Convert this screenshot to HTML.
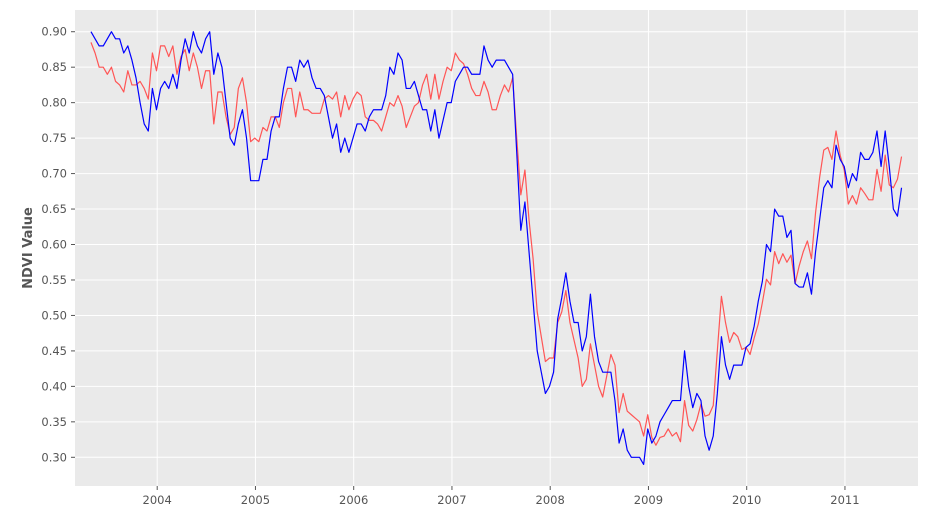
<!DOCTYPE html>
<html><head><meta charset="utf-8"><style>
html,body{margin:0;padding:0;background:#fff;}
svg{display:block;font-family:"DejaVu Sans","Liberation Sans",sans-serif;}
</style></head><body>
<svg id="chart" width="931" height="513" viewBox="0 0 931 513"></svg>
<script>
const startYear = 2003.326;
const stepYear = 1/24;
const blueValues = [0.90,0.89,0.88,0.88,0.89,0.90,0.89,0.89,0.87,0.88,0.86,0.835,0.80,0.77,0.76,0.82,0.79,0.82,0.83,0.82,0.84,0.82,0.86,0.89,0.87,0.90,0.88,0.87,0.89,0.90,0.84,0.87,0.85,0.80,0.75,0.74,0.77,0.79,0.75,0.69,0.69,0.69,
0.72,0.72,0.76,0.78,0.78,0.82,0.85,0.85,0.83,0.86,0.85,0.86,0.835,0.82,0.82,0.81,0.78,0.75,0.77,0.73,0.75,0.73,0.75,0.77,0.77,0.76,0.78,0.79,0.79,0.79,0.81,0.85,0.84,0.87,0.86,0.82,0.82,0.83,0.81,
0.79,0.79,0.76,0.79,0.75,0.775,0.80,0.80,0.83,0.84,0.85,0.85,0.84,0.84,0.84,0.88,0.86,0.85,0.86,0.86,0.86,0.85,0.84,0.73,0.62,0.66,0.59,0.52,0.45,0.42,0.39,0.40,0.42,0.495,0.525,0.56,0.52,0.49,0.49,0.45,0.47,0.53,0.47,0.435,
0.42,0.42,0.42,0.38,0.32,0.34,0.31,0.30,0.30,0.30,0.29,0.34,0.32,0.33,0.35,0.36,0.37,0.38,0.38,0.38,0.45,0.40,0.37,0.39,0.38,0.33,0.31,0.33,0.39,0.47,0.43,0.41,0.43,0.43,
0.43,0.455,0.46,0.485,0.52,0.548,0.60,0.59,0.65,0.64,0.64,0.61,0.62,0.545,0.54,0.54,0.56,0.53,0.59,0.635,0.68,0.69,0.68,0.74,0.72,0.71,0.68,0.70,0.69,0.73,0.72,0.72,0.73,0.76,0.71,0.76,0.71,0.65,0.64,0.68];
const redValues = [0.885,0.87,0.85,0.85,0.84,0.85,0.83,0.825,0.815,0.845,0.825,0.825,0.83,0.82,0.805,0.87,0.845,0.88,0.88,0.865,0.88,0.84,0.865,0.875,0.845,0.87,0.85,0.82,0.845,0.845,0.77,0.815,0.815,0.78,0.755,0.765,0.82,0.835,0.80,0.745,0.75,0.745,
0.765,0.76,0.78,0.78,0.765,0.80,0.82,0.82,0.78,0.815,0.79,0.79,0.785,0.785,0.785,0.805,0.81,0.805,0.815,0.78,0.81,0.79,0.805,0.815,0.81,0.78,0.775,0.775,0.77,0.76,0.78,0.80,0.795,0.81,0.795,0.765,0.78,0.795,0.80,
0.825,0.84,0.805,0.84,0.805,0.83,0.85,0.845,0.87,0.86,0.855,0.84,0.82,0.81,0.81,0.83,0.815,0.79,0.79,0.81,0.825,0.815,0.835,0.75,0.67,0.705,0.635,0.58,0.505,0.47,0.435,0.44,0.44,0.49,0.505,0.535,0.49,0.465,0.44,0.40,0.41,0.46,0.43,0.40,
0.385,0.415,0.445,0.43,0.363,0.39,0.365,0.36,0.355,0.35,0.33,0.36,0.328,0.317,0.328,0.33,0.34,0.33,0.335,0.322,0.38,0.345,0.337,0.353,0.375,0.358,0.36,0.373,0.45,0.527,0.49,0.462,0.476,0.47,
0.452,0.455,0.445,0.468,0.488,0.518,0.551,0.543,0.59,0.573,0.587,0.575,0.585,0.545,0.57,0.59,0.605,0.58,0.645,0.695,0.733,0.737,0.72,0.76,0.726,0.705,0.657,0.669,0.657,0.68,0.672,0.663,0.663,0.706,0.675,0.726,0.684,0.68,0.692,0.724];
const xTickLabels = [2004,2005,2006,2007,2008,2009,2010,2011];
const yTickLabels = [0.30,0.35,0.40,0.45,0.50,0.55,0.60,0.65,0.70,0.75,0.80,0.85,0.90];

const NS = "http://www.w3.org/2000/svg";
const svg = document.getElementById('chart');
const P = {l:75, r:918, t:10, b:486};
function xs(yr){ return 157.2 + (yr - 2004) * 98.25; }
function ys(v){ return 457.3 - (v - 0.30) * 709.3; }
function mk(tag, attrs, parent){
  const e = document.createElementNS(NS, tag);
  for (const k in attrs) e.setAttribute(k, attrs[k]);
  (parent || svg).appendChild(e);
  return e;
}
const bg = mk('rect',{x:P.l,y:P.t,width:P.r-P.l,height:P.b-P.t,fill:'#eaeaea'});



yTickLabels.forEach(v=>{
  const y = ys(v);
  const g = mk('line',{x1:P.l,x2:P.r,y1:y,y2:y,stroke:'#fff','stroke-width':1});
  
  
  const t = mk('line',{x1:P.l-4,x2:P.l,y1:y,y2:y,stroke:'#555','stroke-width':1});
  
  
  const lab = mk('text',{x:P.l-8,y:y+4,'text-anchor':'end','font-size':11.5,fill:'#555'});
  lab.textContent = v.toFixed(2);
  
  
});
xTickLabels.forEach(yr=>{
  const x = xs(yr);
  const g = mk('line',{x1:x,x2:x,y1:P.t,y2:P.b,stroke:'#fff','stroke-width':1});
  
  
  const t = mk('line',{x1:x,x2:x,y1:P.b,y2:P.b+4,stroke:'#555','stroke-width':1});
  
  
  const lab = mk('text',{x:x,y:P.b+18,'text-anchor':'middle','font-size':11.5,fill:'#555'});
  lab.textContent = yr;
  
  
});
function series(vals, color, name){
  const pts = vals.map((v,i)=> xs(startYear + i*stepYear).toFixed(2)+','+ys(v).toFixed(2)).join(' ');
  const pl = mk('polyline',{points:pts,fill:'none',stroke:color,'stroke-width':1.2,'stroke-linejoin':'round'});
  
  
}
series(redValues, '#ff5555', 'red-ndvi-line');
series(blueValues, '#0000ff', 'blue-ndvi-line');

const yt = mk('text',{x:0,y:0,transform:'translate(32,248) rotate(-90)','text-anchor':'middle','font-size':13,'font-weight':'bold',fill:'#555'});
yt.textContent = 'NDVI Value';


</script>
</body></html>
